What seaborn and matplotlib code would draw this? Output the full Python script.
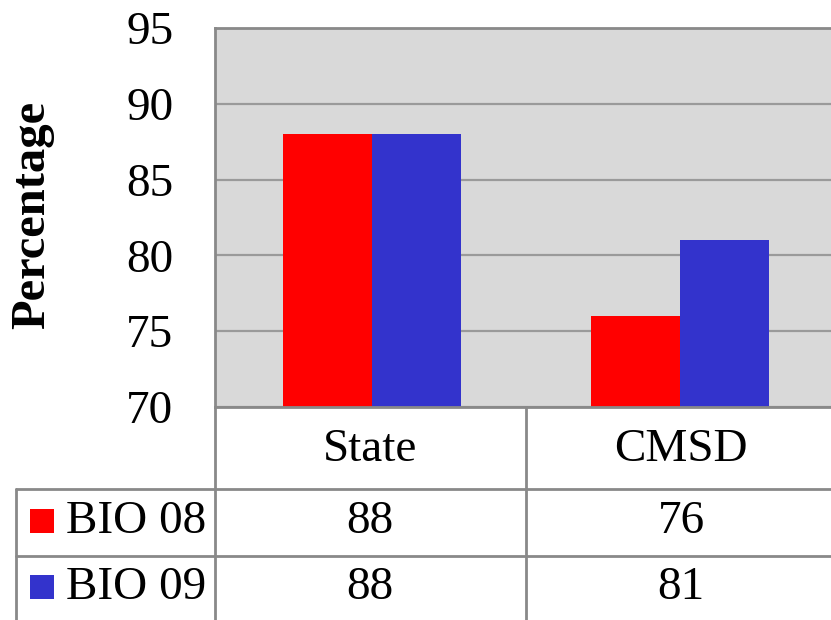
import matplotlib
matplotlib.use("Agg")
import matplotlib.pyplot as plt
import seaborn as sns
import pandas as pd

categories = ["State", "CMSD"]
series_names = ["BIO 08", "BIO 09"]
bio08 = [88, 76]
bio09 = [88, 81]
colors = ["#ff0000", "#3333cc"]
yticks = [70, 75, 80, 85, 90, 95]

df = pd.DataFrame({
    "cat": categories * 2,
    "series": [series_names[0]] * 2 + [series_names[1]] * 2,
    "val": bio08 + bio09,
})

sns.set_theme(style="white")
plt.rcParams["font.family"] = ["Liberation Serif", "DejaVu Serif"]
plt.rcParams["text.color"] = "black"
plt.rcParams["ytick.color"] = "black"
plt.rcParams["ytick.labelcolor"] = "black"

W, H = 831, 620
fig = plt.figure(figsize=(W / 100, H / 100), dpi=100)
L, R, T, B = 215, 831, 28, 407
ax = fig.add_axes([L / W, 1 - B / H, (R - L) / W, (B - T) / H])
ax.set_facecolor("#d9d9d9")
sns.barplot(data=df, x="cat", y="val", hue="series", palette=colors,
            width=0.58, ax=ax, legend=False, saturation=1, linewidth=0)
ax.set_ylim(70, 95)
ax.set_xlim(-0.51, 1.49)
ax.set_yticks(yticks)
ax.set_yticklabels([str(t) for t in yticks], fontsize=34, color="black")
ax.tick_params(axis="y", length=0, pad=30)
ax.set_xticks([])
ax.set_xlabel("")
ax.set_ylabel("")
ax.yaxis.grid(True, color="#9a9a9a", lw=1.6)
ax.set_axisbelow(True)
for s in ["left", "top", "bottom"]:
    ax.spines[s].set_color("#898989")
    ax.spines[s].set_linewidth(2)
ax.spines["right"].set_visible(False)

fig.text(32 / W, 1 - 215 / H, "Percentage", rotation=90, ha="center",
         va="center", fontsize=35, fontweight="bold", color="black")

# data table overlay in pixel coordinates
ov = fig.add_axes([0, 0, 1, 1])
ov.set_xlim(0, W)
ov.set_ylim(H, 0)
ov.axis("off")
ov.patch.set_alpha(0)
lc = "#898989"
ov.plot([16, W], [489, 489], color=lc, lw=2)
ov.plot([16, W], [556, 556], color=lc, lw=2)
ov.plot([L, L], [B, H], color=lc, lw=2)
ov.plot([526, 526], [B, H], color=lc, lw=2)
ov.plot([16, 16], [489, H], color=lc, lw=2)

col_centers = [370, 681]
for c, xc in zip(categories, col_centers):
    ov.text(xc, 450, c, ha="center", va="center", fontsize=34, color="black")
rows = [bio08, bio09]
row_y = [522, 588]
for name, vals, col, yc in zip(series_names, rows, colors, row_y):
    ov.add_patch(plt.Rectangle((30, yc - 13), 24, 24, color=col, lw=0))
    ov.text(66, yc, name, ha="left", va="center", fontsize=34, color="black")
    for v, xc in zip(vals, col_centers):
        ov.text(xc, yc, str(v), ha="center", va="center", fontsize=34,
                color="black")

fig.savefig("out.png", dpi=100)
